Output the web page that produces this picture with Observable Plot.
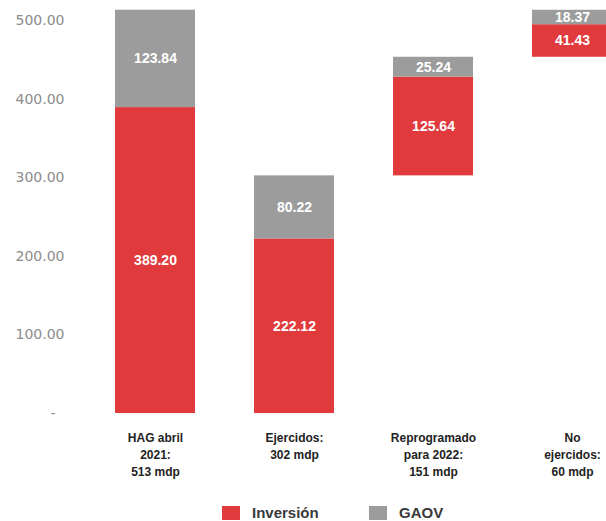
<!DOCTYPE html>
<html>
<head>
<meta charset="utf-8">
<script src="https://cdn.jsdelivr.net/npm/d3@7"></script>
<script src="https://cdn.jsdelivr.net/npm/@observablehq/plot@0.6"></script>
<style>
  html, body { margin: 0; padding: 0; background: #fff; }
  #chart svg { display: block; }
  #legend { position: relative; height: 21px; font-family: "Liberation Sans", Arial, sans-serif; font-weight: bold; font-size: 15px; color: #3a3a3a; }
  #legend .item { position: absolute; top: 4px; display: flex; align-items: center; }
  #legend .sw { width: 18px; height: 14px; margin-right: 12px; }
</style>
</head>
<body>
<div id="chart"></div>
<div id="legend"></div>
<script>
const categories = ["HAG abril\n2021:\n513 mdp", "Ejercidos:\n302 mdp", "Reprogramado\npara 2022:\n151 mdp", "No\nejercidos:\n60 mdp"];
const inversion = [389.20, 222.12, 125.64, 41.43];
const gaov = [123.84, 80.22, 25.24, 18.37];
const series = ["Inversión", "GAOV"];
const colors = ["#e03a3d", "#9c9c9c"];
const yTicks = [0, 100, 200, 300, 400, 500];

// waterfall bases: bar 3 starts at the top of bar 2, bar 4 at the top of bar 3
const totals = inversion.map((v, i) => v + gaov[i]);
const bases = [0, 0, totals[1], totals[1] + totals[2]];

const rows = [];
categories.forEach((c, i) => {
  const b = bases[i];
  rows.push({cat: c, series: series[0], y1: b, y2: b + inversion[i], value: inversion[i]});
  rows.push({cat: c, series: series[1], y1: b + inversion[i], y2: b + inversion[i] + gaov[i], value: gaov[i]});
});

const plot = Plot.plot({
  width: 606,
  height: 500,
  marginLeft: 70,
  marginBottom: 87,
  marginTop: 20,
  style: {fontFamily: "'Liberation Sans', Arial, sans-serif", background: "#fff"},
  x: {type: "band", domain: categories, range: [56, 671], padding: 0.424},
  y: {domain: [0, 500], range: [413, 20]},
  color: {domain: series, range: colors},
  marks: [
    Plot.barY(rows, {x: "cat", y1: "y1", y2: "y2", fill: "series"}),
    Plot.text(rows, {x: "cat", y: d => (d.y1 + d.y2) / 2, text: d => d.value.toFixed(2), fill: "white", fontWeight: "bold", fontSize: 14}),
    Plot.axisY({ticks: yTicks, tickSize: 0, tickPadding: 6, tickFormat: d => d === 0 ? "-\u00a0\u00a0" : d.toFixed(2), fontSize: 14, fontFamily: "'DejaVu Sans', sans-serif", fill: "#8c8c8c", label: null}),
    Plot.axisX({tickSize: 0, tickPadding: 17, fontSize: 12, fontWeight: "bold", fill: "#222", lineHeight: 1.4, label: null})
  ]
});
document.getElementById("chart").appendChild(plot);

const legend = document.getElementById("legend");
const lx = [222, 369];
series.forEach((s, i) => {
  const item = document.createElement("div");
  item.className = "item";
  item.style.left = lx[i] + "px";
  const sw = document.createElement("span");
  sw.className = "sw";
  sw.style.background = colors[i];
  const t = document.createElement("span");
  t.textContent = s;
  item.appendChild(sw);
  item.appendChild(t);
  legend.appendChild(item);
});
</script>
</body>
</html>
